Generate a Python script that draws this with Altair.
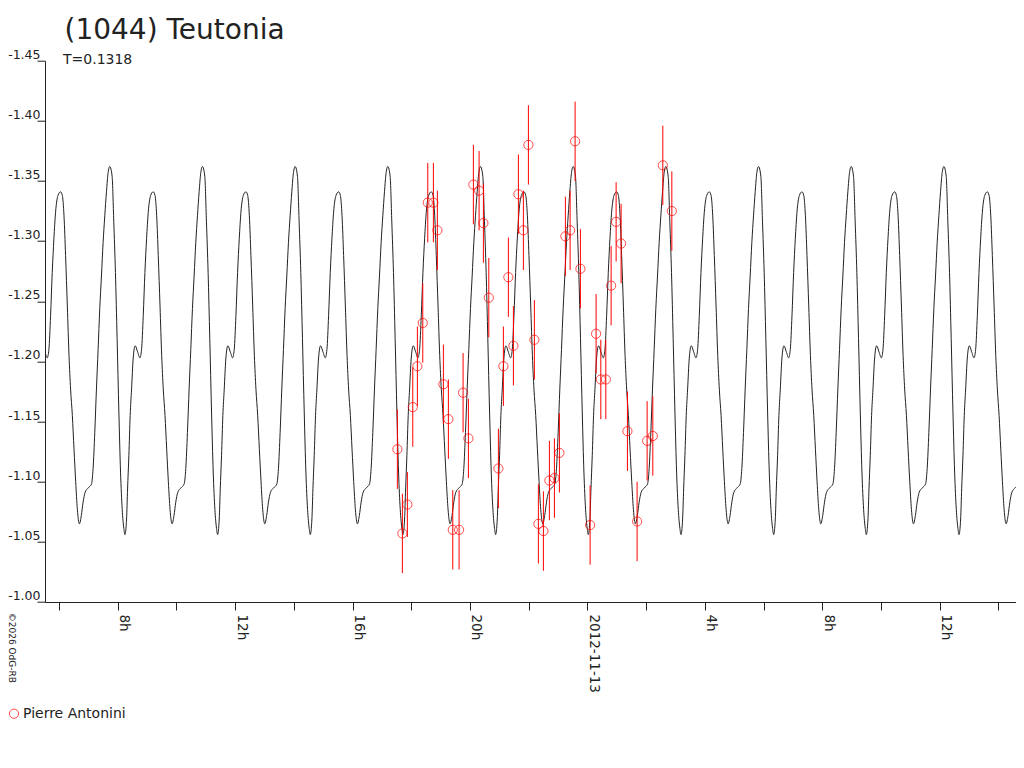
import altair as alt
import pandas as pd

# ---------------- data ----------------
OBSERVER = "Pierre Antonini"
# observation times, hours after 2012-11-12 00:00 UT
obs_hours = [17.526, 17.697, 17.867, 18.051, 18.208, 18.392, 18.562, 18.753, 18.889, 19.094,
             19.264, 19.414, 19.629, 19.765, 19.946, 20.116, 20.310, 20.457, 20.641, 20.968,
             21.138, 21.308, 21.479, 21.649, 21.819, 21.990, 22.194, 22.330, 22.501, 22.705,
             22.876, 23.046, 23.250, 23.411, 23.581, 23.762, 24.092, 24.296, 24.457, 24.627,
             24.808, 24.978, 25.148, 25.363, 25.693, 26.034, 26.228, 26.569, 26.876]
obs_mag = [-1.127, -1.057, -1.081, -1.162, -1.196, -1.232, -1.332, -1.332, -1.309, -1.181,
           -1.152, -1.060, -1.060, -1.174, -1.136, -1.347, -1.342, -1.315, -1.253, -1.111,
           -1.196, -1.270, -1.213, -1.339, -1.309, -1.380, -1.218, -1.065, -1.059, -1.101,
           -1.103, -1.124, -1.304, -1.309, -1.383, -1.277, -1.064, -1.223, -1.185, -1.185,
           -1.263, -1.316, -1.298, -1.142, -1.067, -1.134, -1.138, -1.363, -1.325]
obs_err = [0.033, 0.033, 0.027, 0.033, 0.033, 0.033, 0.033, 0.033, 0.033, 0.033,
           0.033, 0.033, 0.033, 0.033, 0.033, 0.033, 0.033, 0.033, 0.033, 0.033,
           0.033, 0.033, 0.033, 0.033, 0.033, 0.033, 0.033, 0.033, 0.033, 0.033,
           0.033, 0.033, 0.033, 0.033, 0.033, 0.033, 0.033, 0.033, 0.033, 0.033,
           0.033, 0.033, 0.033, 0.033, 0.033, 0.033, 0.033, 0.033, 0.033]

# one rotation of the fitted light curve (phase from the brightest maximum)
PERIOD_H = 3.157
EPOCH_H = 7.73
profile_phase = [0.000, 0.025, 0.043, 0.061, 0.079, 0.098, 0.116, 0.134, 0.152, 0.163,
                 0.181, 0.192, 0.206, 0.220, 0.235, 0.252, 0.274, 0.300, 0.325, 0.343,
                 0.361, 0.379, 0.397, 0.415, 0.441, 0.469, 0.488, 0.506, 0.523, 0.542,
                 0.560, 0.577, 0.596, 0.614, 0.632, 0.650, 0.672, 0.693, 0.712, 0.733,
                 0.769, 0.802, 0.820, 0.838, 0.856, 0.874, 0.892, 0.910, 0.928, 0.946,
                 0.964, 0.982]
profile_mag = [-1.362, -1.354, -1.316, -1.274, -1.219, -1.158, -1.108, -1.077, -1.061, -1.056,
               -1.069, -1.094, -1.122, -1.155, -1.177, -1.202, -1.213, -1.208, -1.203, -1.210,
               -1.238, -1.274, -1.302, -1.324, -1.338, -1.341, -1.338, -1.321, -1.288, -1.246,
               -1.205, -1.177, -1.155, -1.127, -1.100, -1.077, -1.065, -1.072, -1.083, -1.091,
               -1.095, -1.098, -1.111, -1.141, -1.177, -1.210, -1.244, -1.271, -1.299, -1.321,
               -1.341, -1.357]

X_START_H = 5.523
X_END_H = 38.60
Y_TICKS = [-1.45, -1.40, -1.35, -1.30, -1.25, -1.20, -1.15, -1.10, -1.05, -1.00]
TITLE = "(1044) Teutonia"
SUBTITLE = "T=0.1318"
CREDIT = "\u00a92026 OdG-RB"

# ---------------- tables ----------------
BASE = pd.Timestamp("2012-11-12 00:00:00", tz="UTC")


def iso(h):
    return (BASE + pd.Timedelta(hours=h)).strftime("%Y-%m-%dT%H:%M:%S.%f")[:-3] + "Z"


def ms(h):
    return int((BASE + pd.Timedelta(hours=h)).timestamp() * 1000)


obs = pd.DataFrame({
    "time": [iso(h) for h in obs_hours],
    "mag": obs_mag,
    "lo": [m - e for m, e in zip(obs_mag, obs_err)],
    "hi": [m + e for m, e in zip(obs_mag, obs_err)],
    "observer": [OBSERVER] * len(obs_mag),
})

rows = []
for k in range(-1, 12):
    for ph, m in zip(profile_phase, profile_mag):
        h = EPOCH_H + (k + ph) * PERIOD_H
        if X_START_H - 1.0 <= h <= X_END_H + 1.0:
            rows.append({"time": iso(h), "mag": m})
curve = pd.DataFrame(rows)

FONT = "DejaVu Sans"
INK = "#222222"

x_scale = alt.Scale(type="utc", domain=[ms(X_START_H), ms(X_END_H)], nice=False)
y_scale = alt.Scale(domain=[-1.45, -1.00], reverse=True, nice=False, zero=False)

hour_ticks = [ms(h) for h in range(6, 39)]

x_axis = alt.Axis(
    title=None, values=hour_ticks, grid=False,
    domainColor=INK, tickColor=INK, tickSize=8, domainWidth=1, tickWidth=1,
    labelAngle=90, labelAlign="left", labelBaseline="alphabetic",
    labelPadding=4, labelOffset=2, labelFont=FONT, labelFontSize=13.5, labelColor=INK,
    labelOverlap=False, labelFlush=False,
    labelExpr="utchours(datum.value) == 0 ? utcFormat(datum.value, '%Y-%m-%d') : "
              "(utchours(datum.value) % 4 == 0 ? utchours(datum.value) + 'h' : '')",
)
y_axis = alt.Axis(
    title=None, values=Y_TICKS, grid=False,
    domainColor=INK, tickColor=INK, tickSize=8, domainWidth=1, tickWidth=1,
    labelAlign="right", labelBaseline="alphabetic", labelPadding=-3, labelOffset=-2.5,
    labelFont=FONT, labelFontSize=12.5, labelColor=INK, labelOverlap=False, labelFlush=False,
    labelExpr="'-' + format(abs(datum.value), '.2f')",
)

line = alt.Chart(curve).mark_line(color=INK, strokeWidth=1, clip=True, interpolate="monotone").encode(
    x=alt.X("time:T", scale=x_scale, axis=x_axis),
    y=alt.Y("mag:Q", scale=y_scale, axis=y_axis),
)

bars = alt.Chart(obs).mark_rule(color="#ff0000", strokeWidth=1).encode(
    x="time:T", y="lo:Q", y2="hi:Q",
)

points = alt.Chart(obs).mark_point(filled=False, size=85, strokeWidth=1).encode(
    x="time:T", y="mag:Q",
    color=alt.Color("observer:N",
                    scale=alt.Scale(domain=[OBSERVER], range=["#ff0000"]),
                    legend=alt.Legend(orient="none", legendX=-38, legendY=646, title=None,
                                      padding=0, symbolType="circle", symbolSize=85,
                                      symbolStrokeWidth=1, labelFont=FONT, labelFontSize=14,
                                      labelColor=INK, labelOffset=2)),
)

title_txt = alt.Chart(pd.DataFrame({"t": [TITLE]})).mark_text(
    font=FONT, fontSize=28, color=INK, align="left", baseline="alphabetic",
).encode(text="t:N", x=alt.value(19.5), y=alt.value(-21.7))

sub_txt = alt.Chart(pd.DataFrame({"t": [SUBTITLE]})).mark_text(
    font=FONT, fontSize=14, color=INK, align="left", baseline="alphabetic",
).encode(text="t:N", x=alt.value(18), y=alt.value(3))

credit_txt = alt.Chart(pd.DataFrame({"t": [CREDIT]})).mark_text(
    font=FONT, fontSize=9, color=INK, align="left", baseline="alphabetic", angle=90,
).encode(text="t:N", x=alt.value(-36), y=alt.value(552))

chart = alt.layer(line, bars, points, title_txt, sub_txt, credit_txt).properties(
    width=971, height=541.3,
    padding={"left": 37, "top": 52.7, "right": 0, "bottom": 130},
    autosize=alt.AutoSizeParams(type="none"),
).configure_view(stroke=None)

chart.save("out.html", embed_options={"renderer": "svg", "actions": False})
